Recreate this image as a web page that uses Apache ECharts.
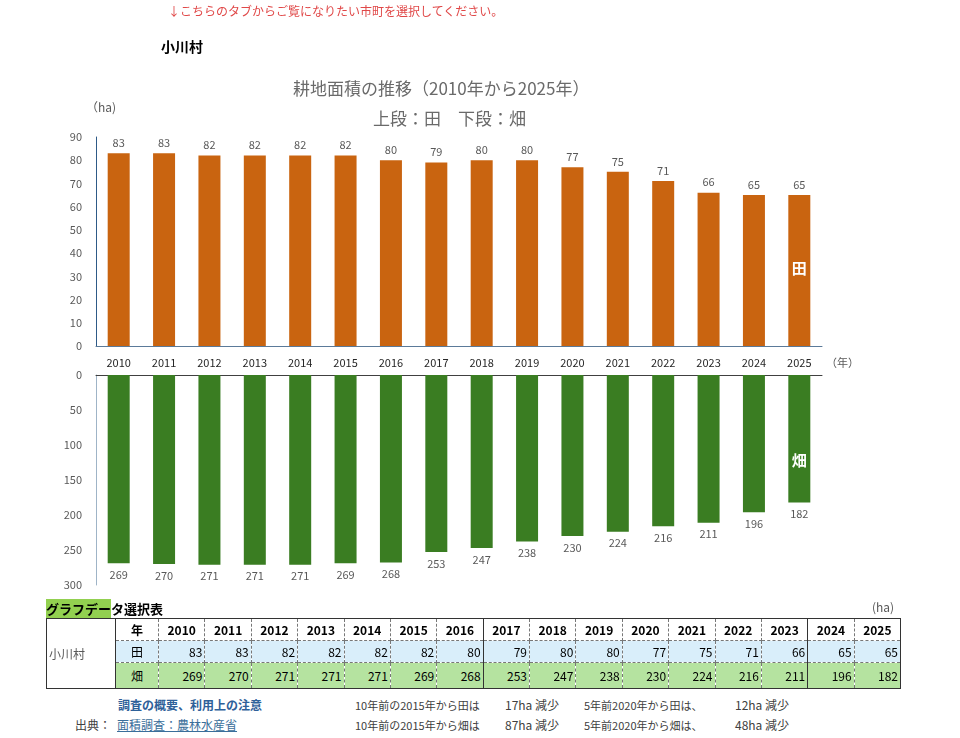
<!DOCTYPE html>
<html>
<head>
<meta charset="utf-8">
<script src="https://cdn.jsdelivr.net/npm/echarts@6/dist/echarts.min.js"></script>
<style>
  body { margin: 0; background: #fff; font-family: "Noto Sans CJK JP", "Noto Sans", sans-serif; }
  #page { position: relative; width: 960px; height: 738px; overflow: hidden; }
  #chart { position: absolute; left: 0; top: 0; width: 960px; height: 600px; }
  .abs { position: absolute; white-space: nowrap; }
  #note { left: 168px; top: 2px; font-size: 12px; color: #e04848; }
  #town { left: 161px; top: 36px; font-size: 14px; font-weight: bold; color: #000; }
  #tblTitle { left: 46px; top: 599px; font-size: 13px; font-weight: bold; color: #000; }
  #tblTitle span { background: #92d050; }
  #tblUnit { left: 872px; top: 598px; font-size: 12px; color: #595959; }
  table { position: absolute; left: 46px; top: 618px; width: 854px; table-layout: fixed; border-collapse: collapse; font-size: 12px; color: #000; }
  td { padding: 0 2px; border: 1px dashed #777; overflow: hidden; }
  td.hd { font-weight: bold; text-align: center; }
  td.num { text-align: right; }
  td.solid { border-left: 1px solid #333; }
  tr.r0 td { height: 21px; background: #fff; border-top: 1px solid #333; }
  tr.r1 td { height: 21px; background: #d9eefa; }
  tr.r2 td { height: 25px; background: #b5e3a0; border-bottom: 1px solid #333; }
  td.last { border-right: 1px solid #333; }
  td.name { background: #fff !important; color: #595959; text-align: left; border: 1px solid #333; }
  #foot1 { left: 118px; top: 696px; font-size: 12px; font-weight: bold; color: #2e6099; }
  #foot2 { left: 75px; top: 716px; font-size: 12px; color: #404040; }
  #foot2 u { color: #3a6e9a; margin-left: 6px; }
  .fs { font-size: 11px; color: #404040; }
  .fb { font-size: 12px; color: #404040; }
</style>
</head>
<body>
<div id="page">
  <div id="chart"></div>
  <div class="abs" id="note">↓こちらのタブからご覧になりたい市町を選択してください。</div>
  <div class="abs" id="town">小川村</div>
  <div class="abs" id="tblTitle"><span>グラフデー</span>タ選択表</div>
  <div class="abs" id="tblUnit">(ha)</div>
  <table id="tbl"></table>
  <div class="abs" id="foot1">調査の概要、利用上の注意</div>
  <div class="abs" id="foot2">出典：<u>面積調査：農林水産省</u></div>
  <div class="abs fs" style="left:355px;top:697px">10年前の2015年から田は</div>
  <div class="abs fb" style="left:505px;top:696px">17ha 減少</div>
  <div class="abs fs" style="left:584px;top:697px">5年前2020年から田は、</div>
  <div class="abs fb" style="left:735px;top:696px">12ha 減少</div>
  <div class="abs fs" style="left:355px;top:717px">10年前の2015年から畑は</div>
  <div class="abs fb" style="left:505px;top:716px">87ha 減少</div>
  <div class="abs fs" style="left:584px;top:717px">5年前2020年から畑は、</div>
  <div class="abs fb" style="left:735px;top:716px">48ha 減少</div>
</div>
<script>
// 年次
const years = ['2010', '2011', '2012', '2013', '2014', '2015', '2016', '2017',
  '2018', '2019', '2020', '2021', '2022', '2023', '2024', '2025']
// 田 (ha)
const paddy = [83, 83, 82, 82, 82, 82, 80, 79, 80, 80, 77, 75, 71, 66, 65, 65]
// 畑 (ha)
const upland = [269, 270, 271, 271, 271, 269, 268, 253, 247, 238, 230, 224, 216, 211, 196, 182]

const FONT = '"Noto Sans CJK JP", "Noto Sans", sans-serif'
const GRAY = '#595959'

// 表を作る
const buildTable = () => {
  const tbl = document.getElementById('tbl')
  const solidAt = ['2017', '2024']
  const cls = (i) => (solidAt.includes(years[i]) ? ' solid' : '') + (i === years.length - 1 ? ' last' : '')
  let html = '<colgroup><col style="width:69px"><col style="width:43px">'
  years.forEach(() => { html += '<col style="width:46.375px">' })
  html += '</colgroup>'
  html += '<tr class="r0"><td class="name" rowspan="3">小川村</td><td class="hd">年</td>'
  years.forEach((y, i) => {
    html += '<td class="hd' + cls(i) + '">' + y + '</td>'
  })
  html += '</tr><tr class="r1"><td class="hd" style="font-weight:normal">田</td>'
  paddy.forEach((v, i) => {
    html += '<td class="num' + cls(i) + '">' + v + '</td>'
  })
  html += '</tr><tr class="r2"><td class="hd" style="font-weight:normal">畑</td>'
  upland.forEach((v, i) => {
    html += '<td class="num' + cls(i) + '">' + v + '</td>'
  })
  html += '</tr>'
  tbl.innerHTML = html
}
buildTable()

const chart = echarts.init(document.getElementById('chart'))
const option = {
  animation: false,
  textStyle: { fontFamily: FONT },
  graphic: [
    { type: 'text', top: 80, left: 293, style: { text: '耕地面積の推移（2010年から2025年）', font: '17px ' + FONT, fill: '#6a6a6a' } },
    { type: 'text', top: 110, left: 373, style: { text: '上段：田　下段：畑', font: '17px ' + FONT, fill: '#6a6a6a' } },
    { type: 'text', top: 101, left: 86, style: { text: '（ha)', font: '12px ' + FONT, fill: GRAY } },
    { type: 'text', top: 357, left: 826, style: { text: '（年）', font: '11px ' + FONT, fill: GRAY } }
  ],
  grid: [
    { left: 96, right: 138, top: 137, height: 209 },
    { left: 96, right: 138, top: 375, height: 210 }
  ],
  xAxis: [
    {
      gridIndex: 0,
      type: 'category',
      data: years,
      axisTick: { show: false },
      axisLine: { lineStyle: { color: '#5b7a99', width: 1 } },
      axisLabel: { color: '#262626', fontSize: 11, margin: 11 }
    },
    {
      gridIndex: 1,
      type: 'category',
      data: years,
      position: 'top',
      axisTick: { show: false },
      axisLine: { lineStyle: { color: '#404040', width: 1 } },
      axisLabel: { show: false }
    }
  ],
  yAxis: [
    {
      gridIndex: 0,
      type: 'value',
      min: 0,
      max: 90,
      interval: 10,
      axisLine: { show: true, lineStyle: { color: '#2e5a87' } },
      axisTick: { show: false },
      splitLine: { show: false },
      axisLabel: { color: GRAY, fontSize: 11, margin: 14 }
    },
    {
      gridIndex: 1,
      type: 'value',
      inverse: true,
      min: 0,
      max: 300,
      interval: 50,
      axisLine: { show: true, lineStyle: { color: '#9fb4c7' } },
      axisTick: { show: false },
      splitLine: { show: false },
      axisLabel: { color: GRAY, fontSize: 11, margin: 14 }
    }
  ],
  series: [
    {
      name: '田',
      type: 'bar',
      xAxisIndex: 0,
      yAxisIndex: 0,
      barWidth: 22,
      itemStyle: { color: '#c96410' },
      label: { show: true, position: 'top', distance: 5, color: GRAY, fontSize: 11 },
      data: paddy,
      markPoint: {
        symbolSize: 0,
        label: { show: true, formatter: '田', color: '#fff', fontSize: 15, fontWeight: 'bold', position: 'inside' },
        data: [{ coord: ['2025', 33.5] }]
      }
    },
    {
      name: '畑',
      type: 'bar',
      xAxisIndex: 1,
      yAxisIndex: 1,
      barWidth: 22,
      itemStyle: { color: '#3a7d22' },
      label: { show: true, position: 'bottom', distance: 6, color: GRAY, fontSize: 11 },
      data: upland,
      markPoint: {
        symbolSize: 0,
        label: { show: true, formatter: '畑', color: '#fff', fontSize: 15, fontWeight: 'bold', position: 'inside' },
        data: [{ coord: ['2025', 122] }]
      }
    }
  ]
}
chart.setOption(option)
</script>
</body>
</html>
